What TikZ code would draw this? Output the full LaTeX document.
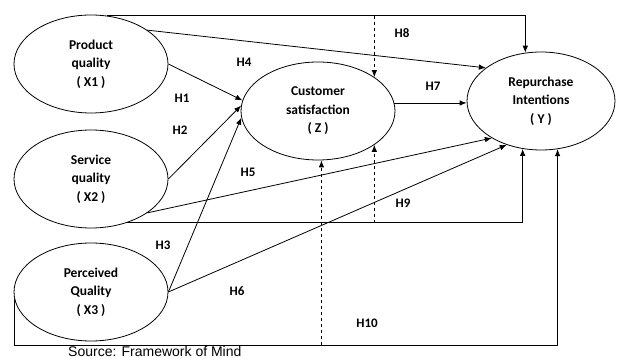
\documentclass[tikz,border=0pt]{standalone}
\usepackage{fontspec}
\setmainfont{Carlito}
\newfontfamily\srcfont{Liberation Sans}
\usetikzlibrary{arrows.meta,shapes.geometric,positioning}

\begin{document}
\begin{tikzpicture}[x=1pt, y=-1pt,
  var/.style={draw, ellipse, line width=0.8pt, minimum width=154pt, minimum height=98pt,
    inner sep=0pt, align=center, font=\fontsize{13.5}{18.5}\selectfont\bfseries},
  hyp/.style={font=\fontsize{13}{15}\selectfont\bfseries, inner sep=1pt},
  arr/.style={-{Latex[length=7pt, width=5.5pt]}, line width=0.8pt}]
\useasboundingbox (0,0) rectangle (624,358);
\node[var] (x1) at (91,64) {Product\\quality\\( X1 )};
\node[var] (x2) at (91,179) {Service\\quality\\( X2 )};
\node[var] (x3) at (91,292) {Perceived\\Quality\\( X3 )};
\node[var] (z) at (318,111) {Customer\\satisfaction\\( Z )};
\node[var, minimum width=148pt] (y) at (541,101) {Repurchase\\Intentions\\( Y )};
\coordinate (base) at (0,345);
% direct paths
\draw[arr] (x1.east) -- (z.172);
\draw[arr] (x2.east) -- (z.176);
\draw[arr] (x3.east) -- (z.185);
\draw[arr] (z.6) -- (z.6 -| y.west);
\draw[arr] (x1.31) -- (y.149);
\draw[arr] (x2.329) -- (y.217);
\draw[arr] (x3.east) -- (y.232);
% mediated paths
\draw[arr] (x1.72) -- (x1.72 -| y.108) -- (y.108);
\draw[arr] (x2.309) -| (y.249);
\draw[arr] (x3.185) |- (base -| y.289) -- (y.289);
\draw[arr, dashed] (z.31 |- x1.72) -- (z.31);
\draw[arr, dashed] (x2.309 -| z.329) -- (z.329);
\draw[arr, dashed] (base -| z.274) -- (z.274);
% labels
\node[hyp] (h1) at (182,98) {H1};
\node[hyp] (h2) at (180,130) {H2};
\node[hyp] (h3) at (163,245) {H3};
\node[hyp] (h4) at (244,62) {H4};
\node[hyp] (h5) at (248,172) {H5};
\node[hyp] (h6) at (237,291) {H6};
\node[hyp] (h7) at (433,86) {H7};
\node[hyp] (h8) at (402,33) {H8};
\node[hyp] (h9) at (403,203) {H9};
\node[hyp] (h10) at (367,323) {H10};
\node[font=\srcfont\fontsize{14}{16}\selectfont, anchor=base west, inner sep=0pt] (src)
  at (68,356) {Source: Framework of Mind};
\end{tikzpicture}
\end{document}
